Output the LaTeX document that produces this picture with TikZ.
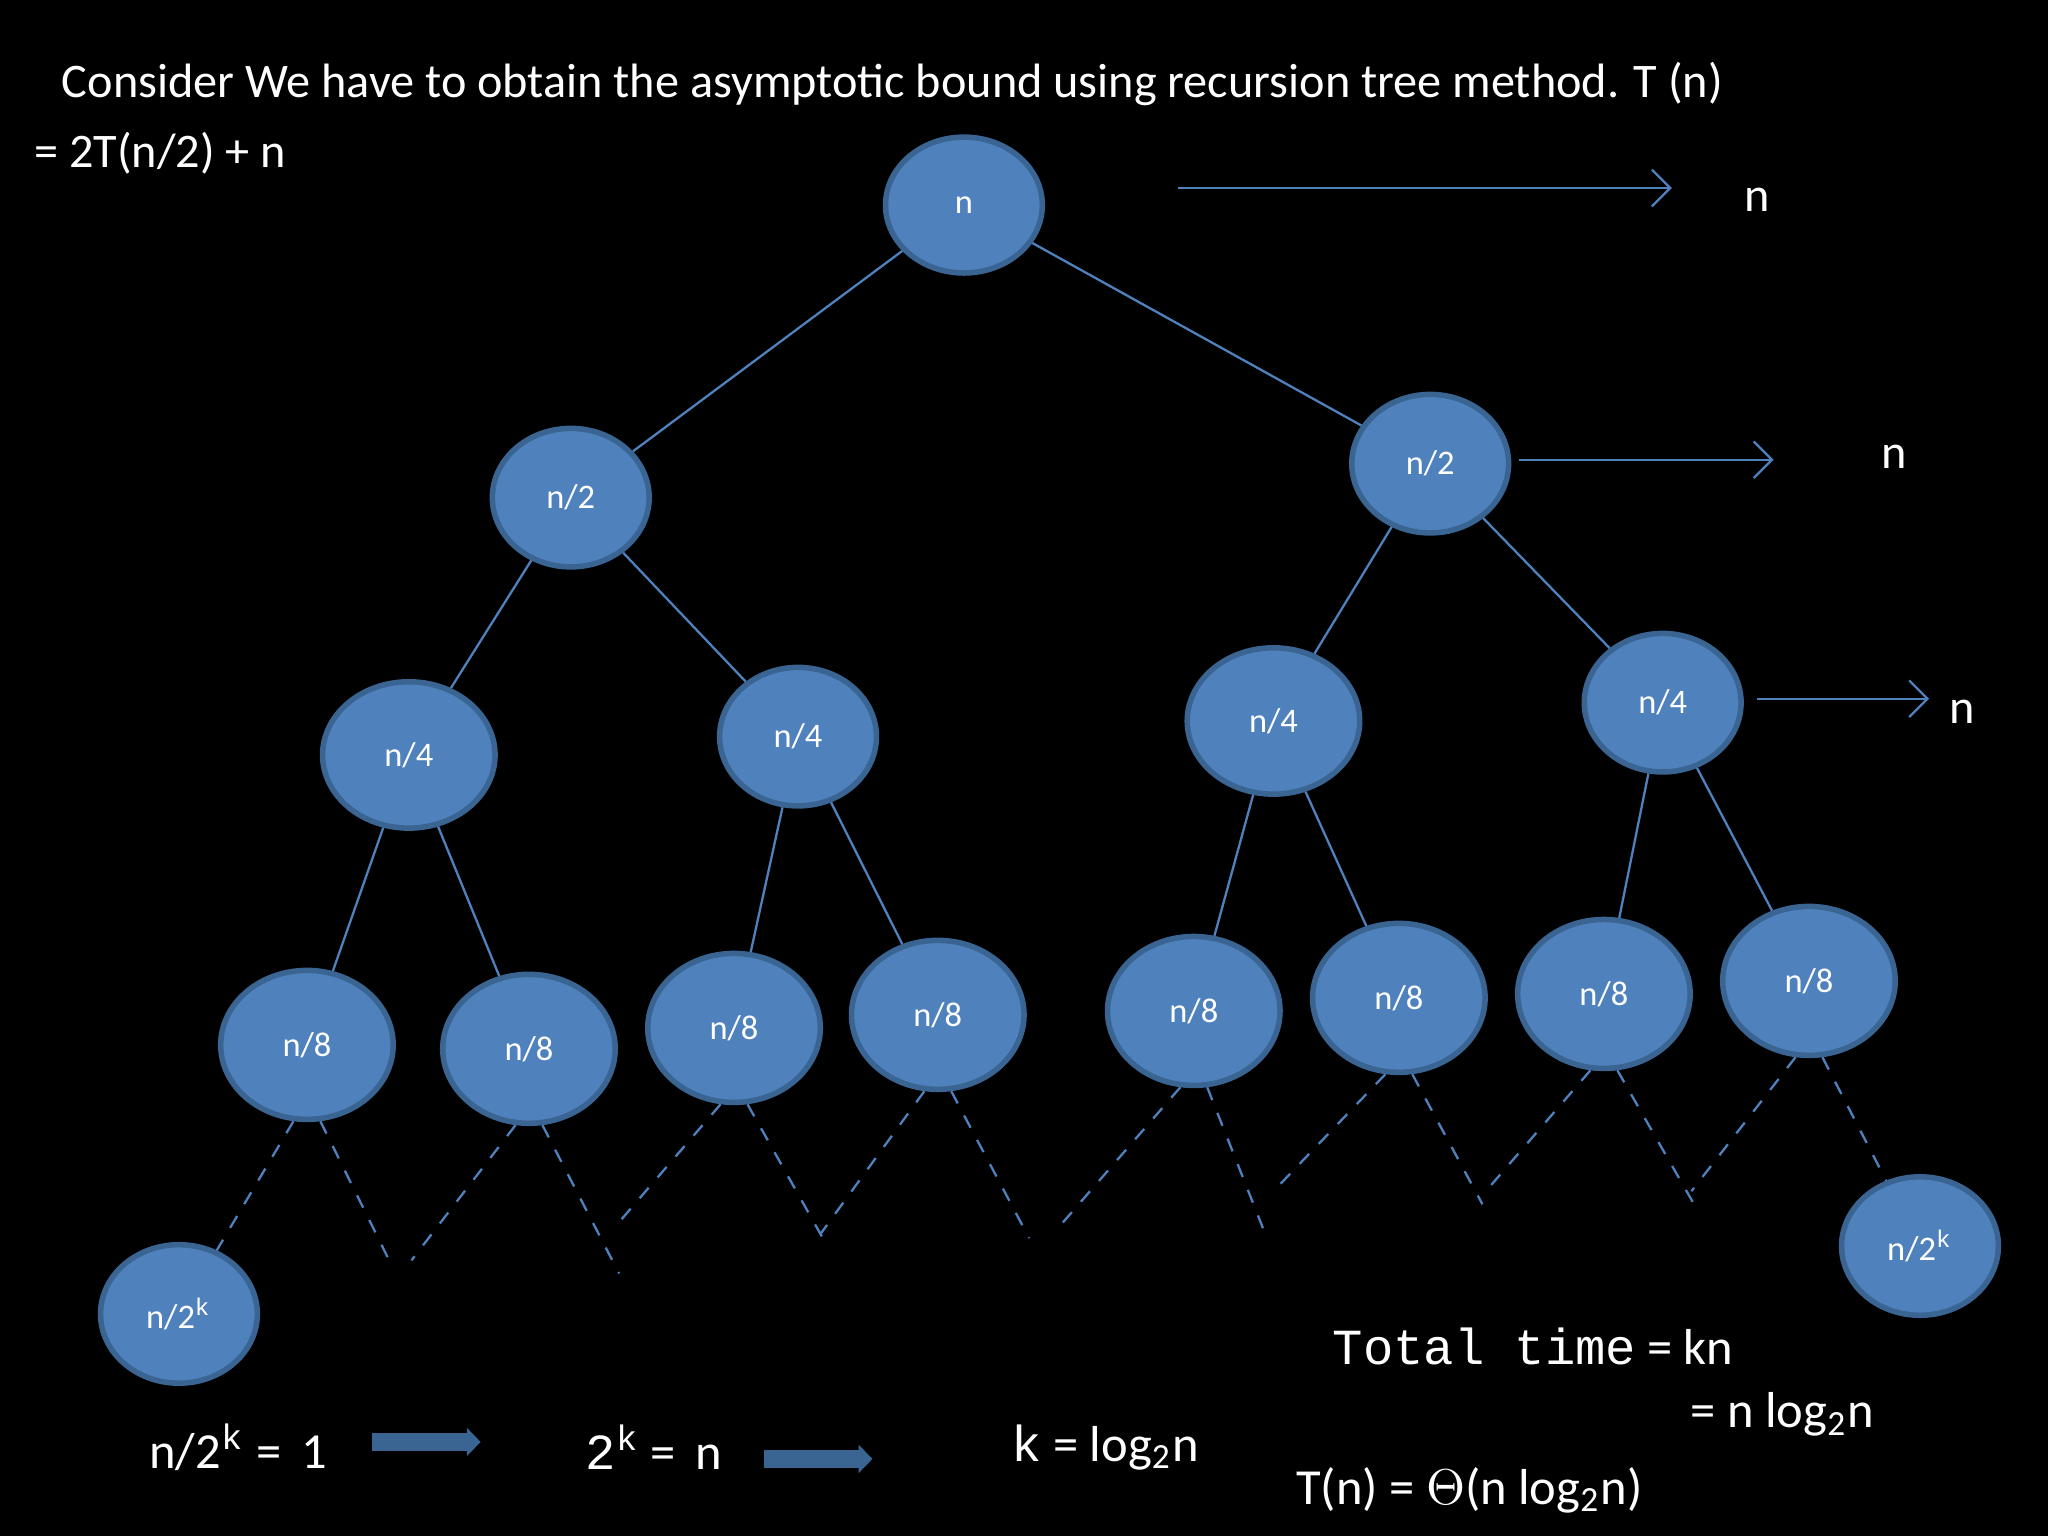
\documentclass[tikz,border=0pt]{standalone}
\usepackage{fontspec}
\setmainfont{Carlito}
\setmonofont{Liberation Mono}
\usetikzlibrary{shapes.geometric,arrows.meta}
\definecolor{nb}{HTML}{4F81BD}
\definecolor{nbd}{HTML}{3A6491}
\begin{document}
\begin{tikzpicture}[x=0.01cm,y=-0.01cm,
 nd/.style 2 args={ellipse,fill=nb,draw=nbd,line width=1.2pt,text=white,inner sep=0pt,font=\fontsize{7.5}{8}\selectfont,minimum width=#1cm,minimum height=#2cm},
 ln/.style={draw=nb,line width=0.5pt},
 dl/.style={draw=nb,line width=0.5pt,dashed},
 ar/.style={draw=nb,line width=0.5pt,-{Straight Barb[length=4pt]}},
 wt/.style={text=white,font=\fontsize{10.5}{12}\selectfont},
 big/.style={draw=nbd,line width=4pt,-{Triangle[length=3pt,width=6pt]}}]
\fill[black] (0,0) rectangle (1568,1176);
\useasboundingbox (0,0) rectangle (1568,1176);
\node[wt,anchor=west] (t1) at (35,64) {Consider We have to obtain the asymptotic bound using recursion tree method. T (n)};
\node[wt,anchor=west] (t2) at (14,117) {= 2T(n/2) + n};
% nodes
\node[nd={1.2}{1.04}] (r) at (738,157) {n};
\node[nd={1.2}{1.06}] (a) at (437,381) {n/2};
\node[nd={1.2}{1.06}] (b) at (1095,355) {n/2};
\node[nd={1.32}{1.12}] (a1) at (313,578) {n/4};
\node[nd={1.2}{1.06}] (a2) at (611,564) {n/4};
\node[nd={1.32}{1.12}] (b1) at (975,552) {n/4};
\node[nd={1.2}{1.06}] (b2) at (1273,538) {n/4};
\foreach \i/\x/\y in {1/235/800,2/405/803,3/562/787,4/718/777,5/914/774,6/1071/764,7/1228/761,8/1385/751}
  \node[nd={1.32}{1.14}] (e\i) at (\x,\y) {n/8};
\node[nd={1.2}{1.06}] (k1) at (137,1006) {n/2\texttt{\textsuperscript{k}}};
\node[nd={1.2}{1.06}] (k2) at (1470,954) {n/2\texttt{\textsuperscript{k}}};
% edges
\draw[ln] (r) -- (a); \draw[ln] (r) -- (b);
\draw[ln] (a) -- (a1); \draw[ln] (a) -- (a2);
\draw[ln] (b) -- (b1); \draw[ln] (b) -- (b2);
\draw[ln] (a1) -- (e1); \draw[ln] (a1) -- (e2);
\draw[ln] (a2) -- (e3); \draw[ln] (a2) -- (e4);
\draw[ln] (b1) -- (e5); \draw[ln] (b1) -- (e6);
\draw[ln] (b2) -- (e7); \draw[ln] (b2) -- (e8);
% dashed
\draw[dl] (e1.-100) -- (k1);
\coordinate (d1) at (298,965); \draw[dl] (e1.-80) -- (d1);
\coordinate (d2) at (315,965); \draw[dl] (e2.-100) -- (d2);
\coordinate (d3) at (474,975); \draw[dl] (e2.-80) -- (d3);
\coordinate (d4) at (472,938); \draw[dl] (e3.-100) -- (d4);
\coordinate (d5) at (630,948); \draw[dl] (e3.-80) -- (d5);
\coordinate (d6) at (628,945); \draw[dl] (e4.-100) -- (d6);
\coordinate (d7) at (788,948); \draw[dl] (e4.-80) -- (d7);
\coordinate (d8) at (812,938); \draw[dl] (e5.-100) -- (d8);
\coordinate (d9) at (970,948); \draw[dl] (e5.-80) -- (d9);
\coordinate (d10) at (975,912); \draw[dl] (e6.-100) -- (d10);
\coordinate (d11) at (1135,922); \draw[dl] (e6.-80) -- (d11);
\coordinate (d12) at (1135,915); \draw[dl] (e7.-100) -- (d12);
\coordinate (d13) at (1297,922); \draw[dl] (e7.-80) -- (d13);
\coordinate (d14) at (1295,912); \draw[dl] (e8.-100) -- (d14);
\draw[dl] (e8.-80) -- (k2);
% level sums
\coordinate (p1) at (902,144); \node[wt] (s1) at (1345,153) {n};
\coordinate (q1) at (1280,144); \draw[ar] (p1) -- (q1);
\coordinate (p2) at (1163,352); \node[wt] (s2) at (1450,350) {n};
\coordinate (q2) at (1358,352); \draw[ar] (p2) -- (q2);
\coordinate (p3) at (1345,535); \node[wt] (s3) at (1502,545) {n};
\coordinate (q3) at (1477,535); \draw[ar] (p3) -- (q3);
% bottom
\node[wt,anchor=west,font=\fontsize{11}{12}\selectfont] (f1) at (102,1108) {n/2\texttt{\textsuperscript{k}} = \,1};
\coordinate (g1) at (285,1104); \coordinate (h1) at (368,1104); \draw[big] (g1) -- (h1);
\node[wt,anchor=west,font=\fontsize{11}{12}\selectfont] (f2) at (436,1108) {\texttt{2\textsuperscript{k}} = \,n};
\coordinate (g2) at (585,1117); \coordinate (h2) at (668,1117); \draw[big] (g2) -- (h2);
\node[wt,anchor=west,font=\fontsize{11}{12}\selectfont] (f3) at (762,1108) {\texttt{k} = log\textsubscript{2}n};
\node[wt,anchor=west,font=\fontsize{11}{12}\selectfont] (f4) at (1008,1031) {\texttt{Total time} = kn};
\node[wt,anchor=west,font=\fontsize{11}{12}\selectfont] (f5) at (1282,1083) {= n log\textsubscript{2}n};
\node[wt,anchor=west,font=\fontsize{11}{12}\selectfont] (f6) at (980,1141) {T(n) = $\Theta$(n log\textsubscript{2}n)};
\end{tikzpicture}
\end{document}
